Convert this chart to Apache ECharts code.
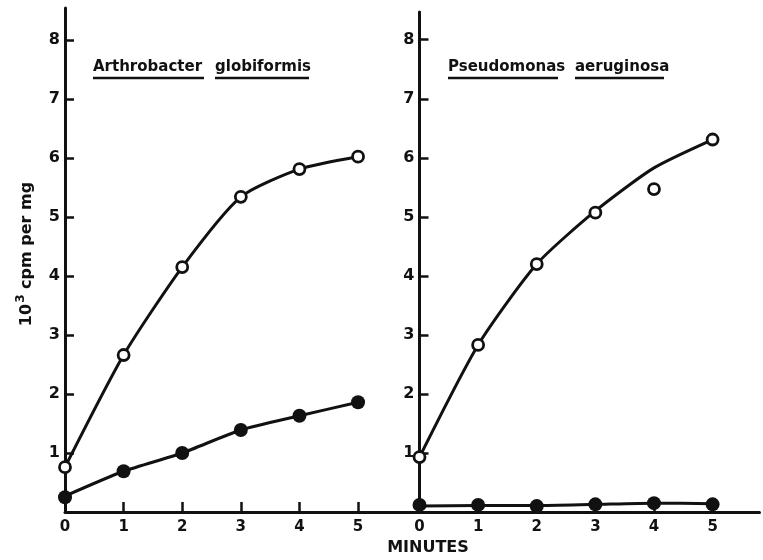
<!DOCTYPE html>
<html>
<head>
<meta charset="utf-8">
<script src="https://cdn.jsdelivr.net/npm/echarts@6/dist/echarts.min.js"></script>
<style>
  html, body { margin: 0; padding: 0; background: #fff; }
  #chart { width: 763px; height: 560px; }
</style>
</head>
<body>
<div id="chart"></div>
<script>
// minutes on the x axis
const minutes = [0, 1, 2, 3, 4, 5];
const yTicks = [1, 2, 3, 4, 5, 6, 7, 8];

// Arthrobacter globiformis (10^3 cpm per mg)
const arthroOpen = [0.76, 2.66, 4.15, 5.34, 5.81, 6.02];
const arthroFilled = [0.25, 0.69, 1.0, 1.39, 1.63, 1.86];
const arthroOpenCurve = [0.76, 2.66, 4.15, 5.34, 5.81, 6.02];
const arthroFilledCurve = [0.27, 0.69, 1.0, 1.39, 1.63, 1.86];

// Pseudomonas aeruginosa
const pseudoOpen = [0.93, 2.83, 4.2, 5.07, 5.47, 6.31];
const pseudoFilled = [0.12, 0.12, 0.1, 0.13, 0.15, 0.13];
const pseudoOpenCurve = [0.93, 2.83, 4.2, 5.1, 5.83, 6.31];
const pseudoFilledCurve = [0.1, 0.11, 0.11, 0.13, 0.15, 0.14];

const INK = "#111";
const FONT = "DejaVu Sans";

const chart = echarts.init(document.getElementById("chart"));

function pairs(ys) {
  return minutes.map((m, i) => [m, ys[i]]);
}

function xAxis(gridIndex, max) {
  return {
    type: "value",
    gridIndex,
    min: 0,
    max,
    splitLine: { show: false },
    axisLine: { lineStyle: { color: INK, width: 3 } },
    axisTick: {
      inside: true,
      length: 10,
      customValues: minutes,
      lineStyle: { color: INK, width: 2.5 },
    },
    axisLabel: {
      customValues: minutes,
      margin: 8,
      color: INK,
      fontFamily: FONT,
      fontWeight: "bold",
      fontSize: 15,
    },
  };
}

function yAxis(gridIndex, max) {
  return {
    type: "value",
    gridIndex,
    min: 0,
    max,
    splitLine: { show: false },
    axisLine: { lineStyle: { color: INK, width: 3 } },
    axisTick: {
      inside: true,
      length: 9,
      customValues: yTicks,
      lineStyle: { color: INK, width: 2.5 },
    },
    axisLabel: {
      customValues: yTicks,
      margin: 5,
      color: INK,
      fontFamily: FONT,
      fontWeight: "bold",
      fontSize: 16,
    },
  };
}

function curve(idx, ys) {
  return {
    type: "line",
    xAxisIndex: idx,
    yAxisIndex: idx,
    data: pairs(ys),
    smooth: 0.22,
    showSymbol: false,
    lineStyle: { color: INK, width: 3 },
    silent: true,
    z: 2,
  };
}

function openPts(idx, ys) {
  return {
    type: "scatter",
    xAxisIndex: idx,
    yAxisIndex: idx,
    data: pairs(ys),
    symbol: "circle",
    symbolSize: 11,
    itemStyle: { color: "#fff", borderColor: INK, borderWidth: 2.8, opacity: 1 },
    z: 4,
  };
}

function filledPts(idx, ys) {
  return {
    type: "scatter",
    xAxisIndex: idx,
    yAxisIndex: idx,
    data: pairs(ys),
    symbol: "circle",
    symbolSize: 14,
    itemStyle: { color: INK, opacity: 1 },
    z: 4,
  };
}

function word(text, x, y) {
  return {
    type: "text",
    x,
    y,
    style: {
      text,
      fill: INK,
      font: "bold 15px " + FONT,
      textVerticalAlign: "middle",
    },
  };
}

function underline(x1, x2, y) {
  return {
    type: "line",
    shape: { x1, y1: y, x2, y2: y },
    style: { stroke: INK, lineWidth: 2.4 },
  };
}

chart.setOption({
  animation: false,
  backgroundColor: "#fff",
  grid: [
    { left: 65, top: 8, width: 354, height: 504 },
    { left: 419.5, top: 12, width: 340, height: 500 },
  ],
  xAxis: [xAxis(0, 6.04), xAxis(1, 5.8)],
  yAxis: [yAxis(0, 8.54), yAxis(1, 8.47)],
  series: [
    curve(0, arthroOpenCurve),
    curve(0, arthroFilledCurve),
    openPts(0, arthroOpen),
    filledPts(0, arthroFilled),
    curve(1, pseudoOpenCurve),
    curve(1, pseudoFilledCurve),
    openPts(1, pseudoOpen),
    filledPts(1, pseudoFilled),
  ],
  graphic: [
    word("Arthrobacter", 93, 67),
    underline(93, 204, 78),
    word("globiformis", 215, 67),
    underline(215, 309, 78),
    word("Pseudomonas", 448, 67),
    underline(448, 558, 78),
    word("aeruginosa", 575, 67),
    underline(575, 664, 78),
    {
      type: "text",
      x: 25,
      y: 254,
      rotation: Math.PI / 2,
      style: {
        text: "{b|10}{s|3}{b| cpm per mg}",
        fill: INK,
        textAlign: "center",
        textVerticalAlign: "middle",
        rich: {
          b: { fontFamily: FONT, fontWeight: "bold", fontSize: 16, fill: INK, verticalAlign: "bottom" },
          s: { fontFamily: FONT, fontWeight: "bold", fontSize: 12, fill: INK, verticalAlign: "top", padding: [0, 0, 8, 1] },
        },
      },
    },
    {
      type: "text",
      x: 428,
      y: 548,
      style: {
        text: "MINUTES",
        fill: INK,
        font: "bold 16px " + FONT,
        textAlign: "center",
        textVerticalAlign: "middle",
      },
    },
  ],
});
</script>
</body>
</html>
